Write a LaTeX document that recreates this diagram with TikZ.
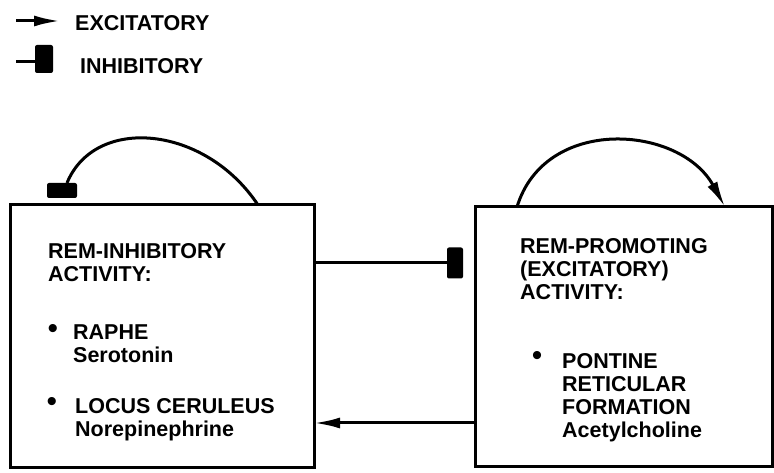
\documentclass[tikz,border=0pt]{standalone}
\usepackage{fontspec}
\setmainfont{Liberation Sans}
\usetikzlibrary{arrows.meta}

\begin{document}
\begin{tikzpicture}[
  x=1pt, y=1pt,
  box/.style={draw, line width=3pt, inner sep=0pt, outer sep=0pt},
  txt/.style={anchor=north west, inner sep=0pt, align=left, font=\bfseries\fontsize{21.5}{23}\selectfont},
  dotmark/.style={anchor=center, inner sep=0pt, font=\fontsize{30}{30}\selectfont},
  excite/.style={line width=3pt, -{Latex[length=26pt,width=11pt]}},
  inhibit/.style={line width=3pt},
  bar/.style={fill, rounded corners=2pt, inner sep=0pt, outer sep=0pt}
]
\useasboundingbox (0,0) rectangle (774,473);

\coordinate (lexA) at (16,452);
\coordinate (lexB) at (60,452);
\draw[excite] (lexA) -- (lexB);
\node[txt, anchor=west] (lexc) at (75,450) {EXCITATORY};
\node[bar, minimum width=18pt, minimum height=28pt] (linhbar) at (44,414) {};
\coordinate (linA) at (16,411);
\draw[inhibit] (linA) -- (linA -| linhbar.west);
\node[txt, anchor=west] (linh) at (80,407) {INHIBITORY};

\node[box, minimum width=304pt, minimum height=263pt] (inh) at (162,136.5) {};
\node[box, minimum width=297pt, minimum height=260pt] (prom) at (623.5,136) {};

\node[txt] (inhtitle) at (48,230) {REM-INHIBITORY\\ACTIVITY:};
\node[dotmark] (b1) at (53,141) {\textbullet};
\node[txt] (raphe) at (73,148) {RAPHE\\Serotonin};
\node[dotmark] (b2) at (52,68) {\textbullet};
\node[txt] (locus) at (75,75) {LOCUS CERULEUS\\Norepinephrine};
\node[txt] (promtitle) at (520,235) {REM-PROMOTING\\(EXCITATORY)\\ACTIVITY:};
\node[dotmark] (b3) at (537,114) {\textbullet};
\node[txt] (pontine) at (562,120) {PONTINE\\RETICULAR\\FORMATION\\Acetylcholine};

\coordinate (inhloop) at (258,268);
\node[bar, minimum width=30pt, minimum height=15pt] (selfbar) at (62,282.5) {};
\draw[inhibit] (inhloop) .. controls (205,348) and (95,358) .. ([xshift=5pt]selfbar.north);

\coordinate (promA) at (517,266);
\coordinate (promB) at (725,266);
\draw[excite] (promA) .. controls (545,358) and (680,348) .. (promB);

\node[bar, minimum width=16pt, minimum height=31pt] (midbar) at (455,210) {};
\draw[inhibit] (inh.east |- midbar) -- (midbar.west);
\coordinate (low) at (0,50);
\draw[excite] (prom.west |- low) -- (inh.east |- low);
\end{tikzpicture}
\end{document}
